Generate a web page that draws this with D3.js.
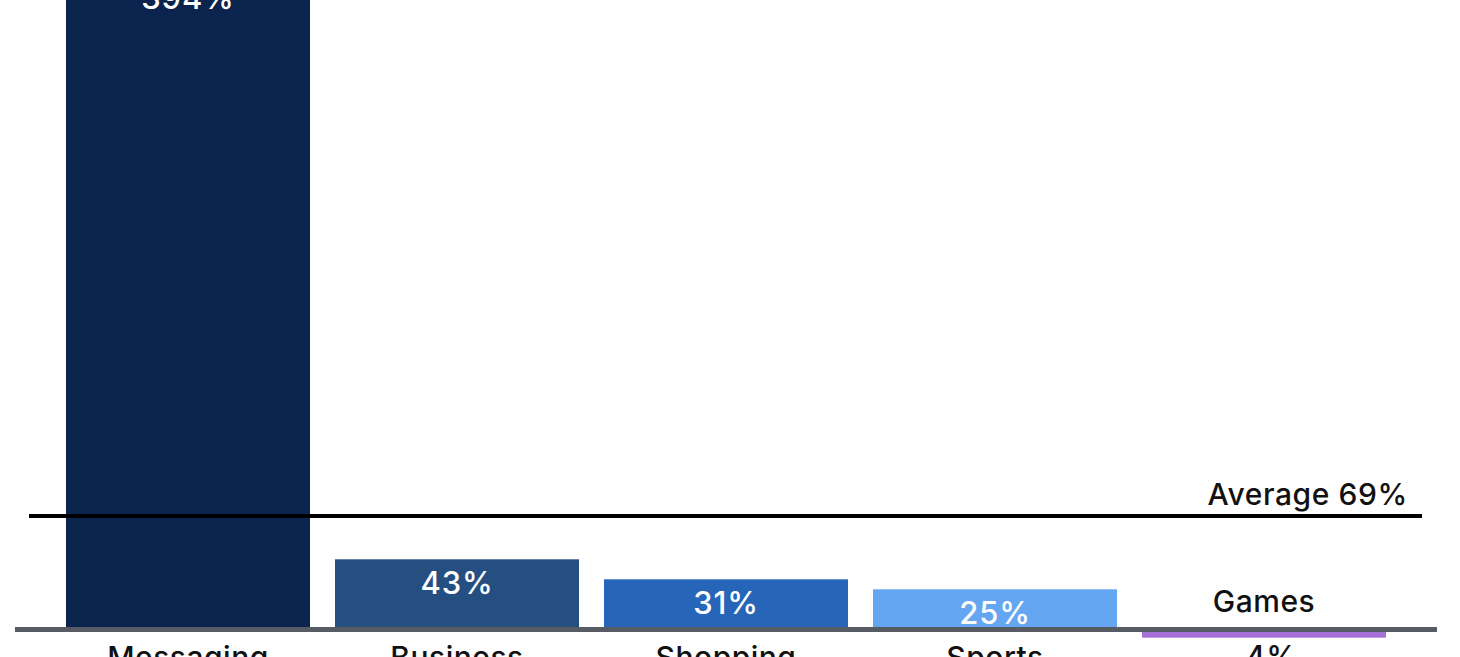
<!DOCTYPE html>
<html>
<head>
<meta charset="utf-8">
<script src="https://cdn.jsdelivr.net/npm/d3@7/dist/d3.min.js"></script>
<style>
  html, body { margin: 0; padding: 0; background: #ffffff; overflow: hidden; }
  svg { display: block; }
  text { font-family: Inter, "Open Sans", sans-serif; font-weight: 500; }
</style>
</head>
<body>
<svg id="chart" width="1460" height="657"></svg>
<script>
// ---- data ----
const categories = ["Messaging", "Business", "Shopping", "Sports", "Games"];
const values = [394, 43, 31, 25, -4];
const valueLabels = ["394%", "43%", "31%", "25%", "-4%"];
const barColors = ["#0a244d", "#264f81", "#2765b8", "#64a6f1", "#a56fd7"];
const averageValue = 69;
const averageLabel = "Average 69%";

// ---- layout ----
const svg = d3.select("#chart");

const x = d3.scaleBand()
  .domain(categories)
  .range([66, 1386])
  .paddingInner(25 / 269)
  .paddingOuter(0);

const y = d3.scaleLinear()
  .domain([0, 394])
  .range([631, -26]);

const data = categories.map((c, i) => ({ cat: c, v: values[i], label: valueLabels[i], color: barColors[i] }));

// bars
svg.append("g").selectAll("rect")
  .data(data)
  .join("rect")
  .attr("x", d => x(d.cat))
  .attr("width", x.bandwidth())
  .attr("y", d => y(Math.max(0, d.v)))
  .attr("height", d => Math.abs(y(d.v) - y(0)))
  .attr("fill", d => d.color);

// average line
svg.append("line")
  .attr("x1", 29).attr("x2", 1422)
  .attr("y1", y(averageValue)).attr("y2", y(averageValue))
  .attr("stroke", "#000").attr("stroke-width", 4);

svg.append("text")
  .attr("x", 1408)
  .attr("y", y(averageValue) - 11)
  .attr("text-anchor", "end")
  .attr("font-size", 30)
  .attr("letter-spacing", 0.6)
  .attr("fill", "#111")
  .text(averageLabel);

// baseline axis
svg.append("line")
  .attr("x1", 15).attr("x2", 1437)
  .attr("y1", y(0) - 1.5).attr("y2", y(0) - 1.5)
  .attr("stroke", "#575b64").attr("stroke-width", 5);

// value labels
svg.append("g").selectAll("text")
  .data(data)
  .join("text")
  .attr("x", d => x(d.cat) + x.bandwidth() / 2)
  .attr("y", d => d.v >= 0 ? y(d.v) + 35 : y(0) + 37)
  .attr("text-anchor", "middle")
  .attr("font-size", 31)
  .attr("letter-spacing", 0.8)
  .attr("fill", d => d.v >= 0 ? "#ffffff" : "#111")
  .text(d => d.label);

// category labels
svg.append("g").selectAll("text")
  .data(data)
  .join("text")
  .attr("x", d => x(d.cat) + x.bandwidth() / 2)
  .attr("y", d => d.v >= 0 ? y(0) + 37 : y(0) - 19)
  .attr("text-anchor", "middle")
  .attr("font-size", 30)
  .attr("letter-spacing", 0.5)
  .attr("fill", "#111")
  .text(d => d.cat);
</script>
</body>
</html>
